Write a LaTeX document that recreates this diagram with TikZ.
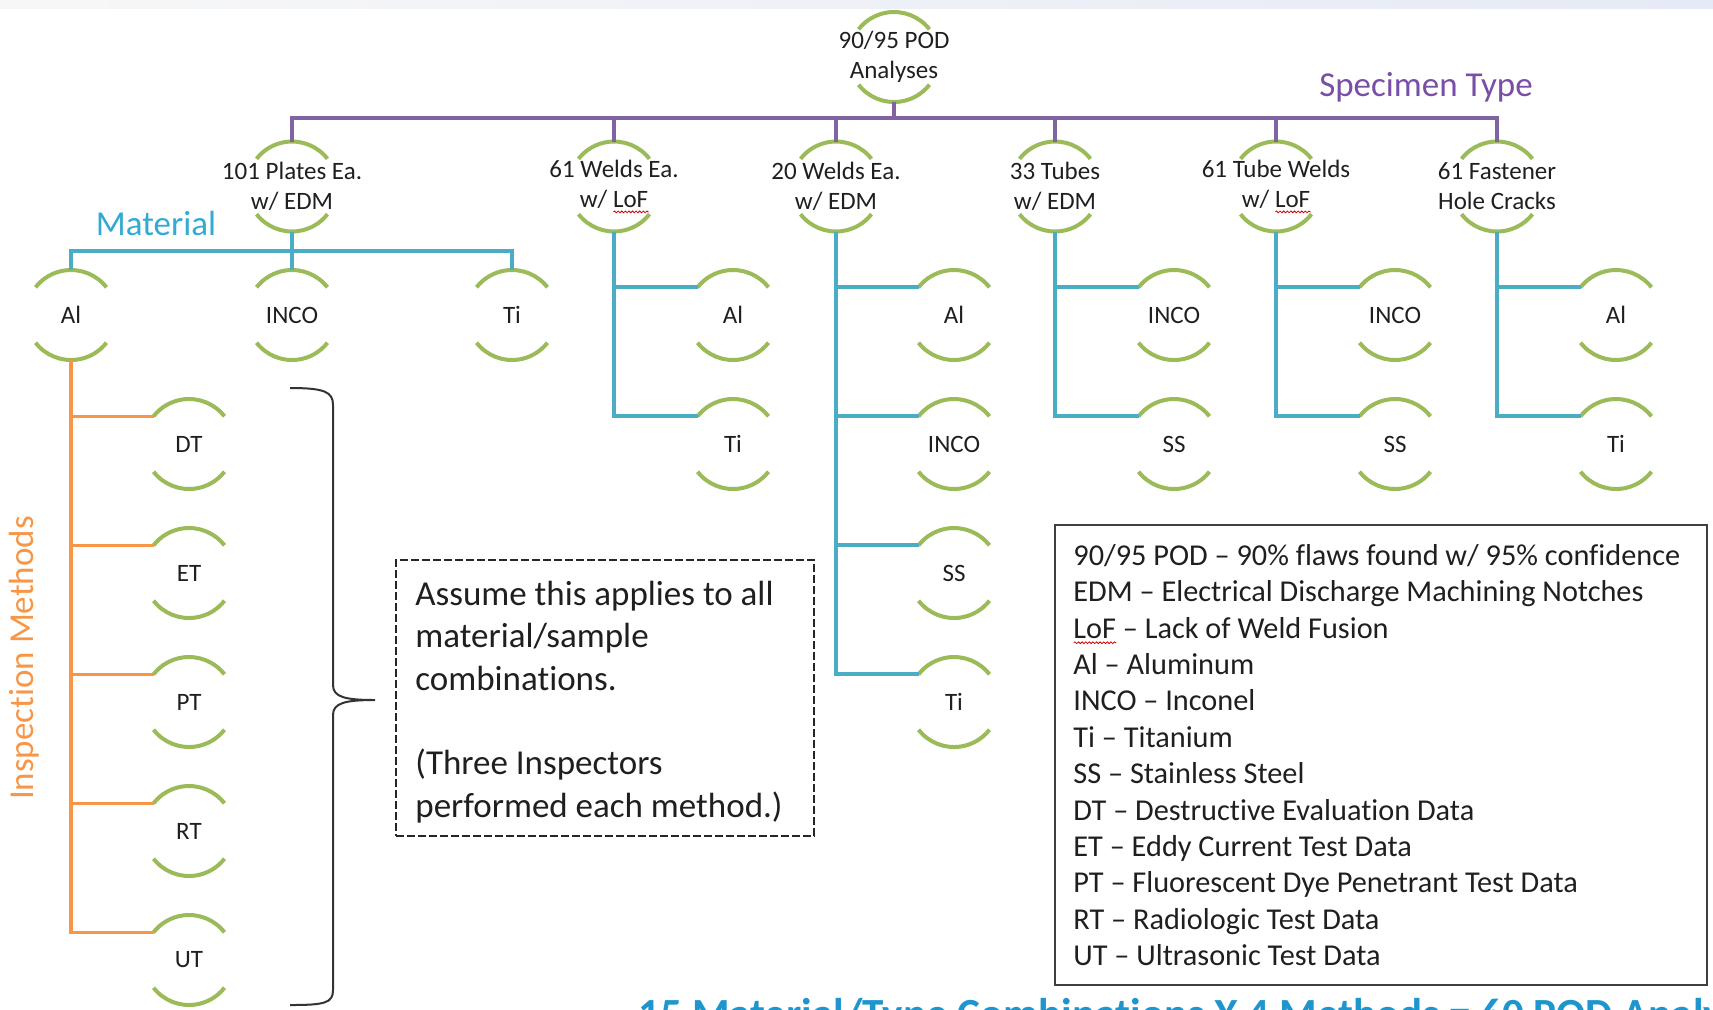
\documentclass[tikz,border=0pt]{standalone}
\usepackage{fontspec}
\setmainfont{Carlito}[Ligatures=NoCommon]
\usetikzlibrary{decorations.pathmorphing}
\definecolor{cGreen}{RGB}{155,187,89}
\definecolor{cPurple}{RGB}{128,100,162}
\definecolor{cPurpleTxt}{RGB}{120,78,166}
\definecolor{cTeal}{RGB}{75,172,198}
\definecolor{cTealTxt}{RGB}{50,170,210}
\definecolor{cOrange}{RGB}{247,150,70}
\definecolor{cBlue}{RGB}{30,150,205}
\definecolor{cBand}{RGB}{230,234,246}
\newlength\sperrlen
\newcommand\sperr[1]{\settowidth\sperrlen{#1}\rlap{\raisebox{-3pt}{\tikz\draw[red!80!black,line width=0.4pt,decorate,decoration={snake,amplitude=0.45pt,segment length=1.8pt}] (0pt,0pt) -- (\sperrlen,0pt);}}#1}
\begin{document}
\begin{tikzpicture}[x=0.5pt,y=0.5pt,
  lbl/.style={font=\fontsize{12.5}{15}\selectfont, align=center, inner sep=0pt, text=black!88},
  brk/.style={draw=cGreen, line width=2pt},
  purpline/.style={draw=cPurple, line width=1.8pt},
  tealline/.style={draw=cTeal, line width=2pt},
  orangeline/.style={draw=cOrange, line width=1.8pt},
  cat/.style={font=\fontsize{17.5}{21}\selectfont, inner sep=0pt},
]
\useasboundingbox (0,0) rectangle (1713,-1009);
\clip (0,0) rectangle (1713,-1009);
\fill[left color=gray!6, right color=cBand] (0,0) rectangle (1713,-8);

% nodes
\node[lbl] (top) at (894,-57) {90/95 POD\\Analyses};
\node[lbl] (p1) at (292,-186.5) {101 Plates Ea.\\w/ EDM};
\node[lbl] (p2) at (614,-186.5) {61 Welds Ea.\\w/ \sperr{LoF}};
\node[lbl] (p3) at (836,-186.5) {20 Welds Ea.\\w/ EDM};
\node[lbl] (p4) at (1055,-186.5) {33 Tubes\\w/ EDM};
\node[lbl] (p5) at (1276,-186.5) {61 Tube Welds\\w/ \sperr{LoF}};
\node[lbl] (p6) at (1497,-186.5) {61 Fastener\\Hole Cracks};

\node[lbl] (a1) at (71,-315) {Al};
\node[lbl] (a2) at (292,-315) {INCO};
\node[lbl] (a3) at (512,-315) {Ti};
\node[lbl] (b1) at (733,-315) {Al};
\node[lbl] (b2) at (733,-444) {Ti};
\node[lbl] (c1) at (954,-315) {Al};
\node[lbl] (c2) at (954,-444) {INCO};
\node[lbl] (c3) at (954,-573) {SS};
\node[lbl] (c4) at (954,-702) {Ti};
\node[lbl] (d1) at (1174,-315) {INCO};
\node[lbl] (d2) at (1174,-444) {SS};
\node[lbl] (e1) at (1395,-315) {INCO};
\node[lbl] (e2) at (1395,-444) {SS};
\node[lbl] (f1) at (1616,-315) {Al};
\node[lbl] (f2) at (1616,-444) {Ti};

\node[lbl] (m1) at (189,-444) {DT};
\node[lbl] (m2) at (189,-573) {ET};
\node[lbl] (m3) at (189,-702) {PT};
\node[lbl] (m4) at (189,-831) {RT};
\node[lbl] (m5) at (189,-960) {UT};

% bracket arcs
\foreach \n in {top,p1,p2,p3,p4,p5,p6,a1,a2,a3,b1,b2,c1,c2,c3,c4,d1,d2,e1,e2,f1,f2,m1,m2,m3,m4,m5}{
  \draw[brk] ([shift={(38:22.5pt)}]\n.center) arc[start angle=38,end angle=142,radius=22.5pt];
  \draw[brk] ([shift={(218:22.5pt)}]\n.center) arc[start angle=218,end angle=322,radius=22.5pt];
}

% specimen type connectors
\coordinate (pbus) at (0,-118);
\draw[purpline] ([yshift=-22.5pt]top.center) -- (top.center |- pbus);
\foreach \c in {p1,p2,p3,p4,p5,p6}{
  \draw[purpline] (top.center |- pbus) -| ([yshift=22.5pt]\c.center);
}

% material connectors
\coordinate (mbus) at (0,-251);
\draw[tealline] ([yshift=-22.5pt]p1.center) -- (p1.center |- mbus);
\foreach \c in {a1,a2,a3}{
  \draw[tealline] (p1.center |- mbus) -| ([yshift=22.5pt]\c.center);
}
\foreach \p/\c in {p2/b1,p2/b2,p3/c1,p3/c2,p3/c3,p3/c4,p4/d1,p4/d2,p5/e1,p5/e2,p6/f1,p6/f2}{
  \draw[tealline] ([yshift=-22.5pt]\p.center) |- ([shift={(142:22.5pt)}]\c.center);
}

% inspection method connectors
\foreach \c in {m1,m2,m3,m4,m5}{
  \draw[orangeline] ([yshift=-22.5pt]a1.center) |- ([shift={(142:22.5pt)}]\c.center);
}

% category labels
\node[cat, text=cPurpleTxt] (spec) at (1426,-87) {Specimen Type};
\node[cat, text=cTealTxt] (mat) at (156,-223) {Material};
\node[cat, text=cOrange, rotate=90] (insp) at (24,-658) {Inspection Methods};

% brace
\draw[line width=1pt, draw=black!80] (290,-388) .. controls (325,-388) and (333,-392) .. (333,-405) -- (333,-685) .. controls (333,-697) and (345,-700) .. (375,-700) .. controls (345,-700) and (333,-703) .. (333,-715) -- (333,-990) .. controls (333,-1003) and (325,-1005) .. (290,-1005);

% note box
\node[draw=black!85, line width=1pt, dash pattern=on 4pt off 1.5pt, minimum width=209pt, minimum height=138pt, inner sep=0pt] (notebox) at (605,-698) {};
\node[anchor=west, align=left, inner sep=0pt, font=\fontsize{17.5}{21.2}\selectfont, text=black!88] (note) at ([xshift=10pt,yshift=-2pt]notebox.west) {Assume this applies to all\\material/sample\\combinations.\\[21.2pt](Three Inspectors\\performed each method.)};

% legend
\node[draw=black!75, line width=1pt, minimum width=326pt, minimum height=230pt, inner sep=0pt] (legbox) at (1381,-755) {};
\node[anchor=west, align=left, inner sep=0pt, font=\fontsize{15.15}{18.2}\selectfont, text=black!88] (legend) at ([xshift=9.5pt]legbox.west) {90/95 POD – 90\% flaws found w/ 95\% confidence\\EDM – Electrical Discharge Machining Notches\\\sperr{LoF} – Lack of Weld Fusion\\Al – Aluminum\\INCO – Inconel\\Ti – Titanium\\SS – Stainless Steel\\DT – Destructive Evaluation Data\\ET – Eddy Current Test Data\\PT – Fluorescent Dye Penetrant Test Data\\RT – Radiologic Test Data\\UT – Ultrasonic Test Data};

% bottom summary (cut off by the picture edge, as in the reference)
\node[anchor=base west, inner sep=0pt, font=\bfseries\fontsize{21.5}{25}\selectfont, text=cBlue] (summary) at (617,-1028) {\textasciitilde15 Material/Type Combinations X 4 Methods = 60 POD Analyses};
\end{tikzpicture}
\end{document}
